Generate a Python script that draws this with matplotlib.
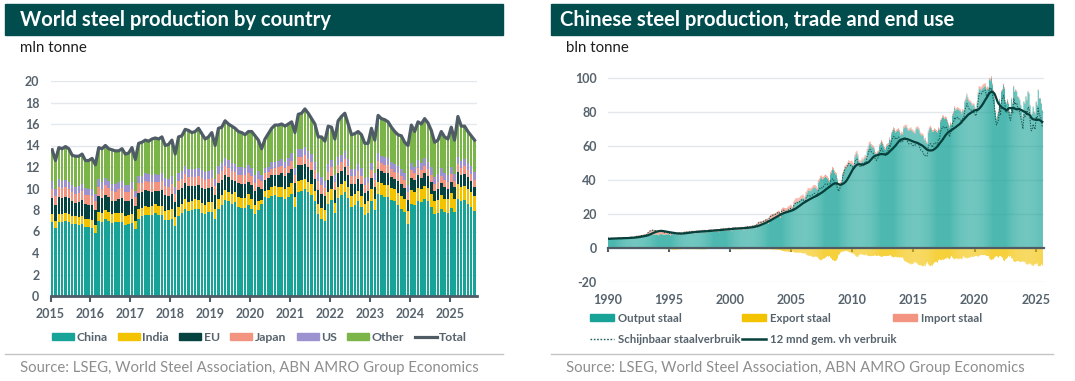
import numpy as np
import pandas as pd
import matplotlib
matplotlib.use("Agg")
import matplotlib.pyplot as plt
from matplotlib.patches import Rectangle, Patch
from matplotlib.lines import Line2D

plt.rcParams['font.family'] = ['Lato', 'DejaVu Sans']
plt.rcParams['axes.unicode_minus'] = False

# ---------------- data links: wereldproductie per land (mln tonne, maandelijks 2015-01 .. 2025-08)
start_links = 2015
landen = ['China', 'India', 'EU', 'Japan', 'US', 'Other']

totaal = [
    13.6, 12.6, 13.8, 13.7, 13.9, 13.7, 13.1, 13.0, 13.0, 13.2, 12.6, 12.6,
    12.8, 12.2, 13.8, 13.7, 14.0, 13.7, 13.6, 13.5, 13.5, 13.7, 13.2, 13.3,
    13.8, 12.7, 14.2, 14.3, 14.5, 14.4, 14.6, 14.7, 14.6, 14.8, 14.0, 14.1,
    14.5, 13.2, 14.8, 14.9, 15.5, 15.4, 15.2, 15.3, 15.6, 15.1, 14.6, 14.8,
    15.2, 14.0, 15.6, 15.7, 16.3, 16.0, 15.8, 15.6, 15.3, 15.2, 15.0, 15.3,
    15.3, 14.9, 14.5, 13.7, 14.6, 15.1, 15.6, 15.9, 15.9, 16.0, 15.8, 16.0,
    16.2, 15.2, 16.9, 17.0, 17.4, 17.0, 16.5, 16.0, 14.8, 14.8, 14.4, 15.8,
    15.7, 14.6, 16.3, 16.7, 17.0, 16.0, 15.0, 15.1, 15.3, 15.0, 14.2, 14.2,
    15.6, 14.5, 16.8, 16.5, 16.4, 16.2, 15.7, 15.3, 15.0, 14.9, 14.3, 14.0,
    15.9, 15.3, 16.2, 16.0, 16.5, 16.1, 15.4, 14.3, 14.5, 15.3, 14.8, 14.6,
    15.7, 14.5, 16.7, 15.8, 15.8, 15.3, 14.9, 14.5,
]
china = [
    6.9, 6.3, 6.9, 6.9, 7.0, 6.9, 6.7, 6.7, 6.6, 6.7, 6.4, 6.4,
    6.3, 5.9, 7.0, 6.9, 7.2, 7.0, 6.8, 6.9, 6.9, 6.9, 6.6, 6.7,
    6.8, 6.2, 7.2, 7.4, 7.5, 7.5, 7.5, 7.7, 7.5, 7.5, 7.1, 7.1,
    7.2, 6.5, 7.4, 7.7, 8.1, 7.9, 8.0, 8.1, 8.1, 7.7, 7.6, 7.8,
    7.8, 7.2, 8.1, 8.5, 8.9, 8.8, 8.6, 8.7, 8.3, 8.2, 8.2, 8.5,
    8.1, 7.6, 8.0, 8.6, 9.2, 9.1, 9.3, 9.4, 9.2, 9.2, 9.0, 9.2,
    9.5, 8.3, 9.7, 9.8, 10.0, 9.7, 9.4, 8.8, 7.6, 7.2, 7.0, 8.6,
    8.9, 7.7, 9.1, 9.4, 9.7, 9.1, 8.3, 8.5, 8.8, 8.3, 7.5, 7.7,
    8.8, 8.0, 9.5, 9.4, 9.2, 9.2, 8.9, 8.8, 8.5, 8.1, 7.8, 6.7,
    8.6, 8.5, 8.8, 8.7, 9.0, 8.8, 8.3, 7.6, 7.7, 8.1, 7.8, 7.7,
    8.2, 7.8, 9.0, 8.8, 8.9, 8.6, 8.3, 7.9,
]
india = [
    0.75, 0.70, 0.77, 0.74, 0.76, 0.73, 0.75, 0.76, 0.73, 0.76, 0.74, 0.78,
    0.80, 0.75, 0.82, 0.78, 0.80, 0.78, 0.79, 0.80, 0.78, 0.82, 0.80, 0.84,
    0.86, 0.78, 0.87, 0.82, 0.84, 0.82, 0.83, 0.85, 0.83, 0.86, 0.85, 0.89,
    0.90, 0.82, 0.92, 0.86, 0.88, 0.86, 0.88, 0.89, 0.87, 0.92, 0.90, 0.94,
    0.95, 0.87, 0.96, 0.90, 0.92, 0.90, 0.92, 0.93, 0.89, 0.93, 0.93, 0.96,
    0.95, 0.89, 0.82, 0.33, 0.58, 0.76, 0.85, 0.85, 0.90, 0.95, 0.92, 0.98,
    1.00, 0.93, 1.03, 0.95, 0.88, 0.90, 0.98, 0.98, 0.95, 0.98, 0.96, 1.03,
    1.05, 0.97, 1.07, 1.00, 1.03, 1.00, 1.02, 1.03, 1.00, 1.03, 1.05, 1.10,
    1.12, 1.02, 1.13, 1.10, 1.13, 1.10, 1.12, 1.14, 1.12, 1.18, 1.19, 1.23,
    1.25, 1.15, 1.27, 1.22, 1.25, 1.21, 1.23, 1.25, 1.20, 1.27, 1.25, 1.30,
    1.35, 1.25, 1.40, 1.32, 1.37, 1.35, 1.38, 1.40,
]
eu = [
    1.45, 1.42, 1.55, 1.50, 1.48, 1.46, 1.35, 1.15, 1.40, 1.45, 1.42, 1.30,
    1.35, 1.38, 1.45, 1.42, 1.40, 1.40, 1.28, 1.12, 1.38, 1.42, 1.40, 1.28,
    1.38, 1.38, 1.52, 1.45, 1.48, 1.45, 1.35, 1.20, 1.42, 1.48, 1.45, 1.30,
    1.42, 1.38, 1.50, 1.48, 1.50, 1.45, 1.35, 1.20, 1.40, 1.45, 1.42, 1.28,
    1.38, 1.35, 1.42, 1.40, 1.42, 1.35, 1.25, 1.08, 1.30, 1.32, 1.30, 1.15,
    1.30, 1.28, 1.28, 1.05, 1.05, 1.08, 1.08, 0.98, 1.20, 1.28, 1.25, 1.22,
    1.30, 1.30, 1.42, 1.40, 1.42, 1.38, 1.30, 1.15, 1.35, 1.35, 1.30, 1.15,
    1.25, 1.20, 1.25, 1.25, 1.28, 1.20, 1.08, 0.92, 1.12, 1.12, 1.05, 0.95,
    1.08, 1.08, 1.18, 1.12, 1.15, 1.10, 1.02, 0.90, 1.10, 1.12, 1.08, 0.98,
    1.12, 1.10, 1.15, 1.10, 1.15, 1.12, 1.05, 0.88, 1.08, 1.12, 1.05, 0.95,
    1.10, 1.05, 1.15, 1.10, 1.12, 1.08, 1.02, 0.85,
]
japan = [
    0.90, 0.85, 0.92, 0.87, 0.89, 0.86, 0.90, 0.88, 0.86, 0.88, 0.85, 0.87,
    0.88, 0.82, 0.90, 0.87, 0.89, 0.86, 0.89, 0.88, 0.86, 0.89, 0.86, 0.88,
    0.89, 0.82, 0.90, 0.86, 0.88, 0.87, 0.89, 0.88, 0.86, 0.87, 0.87, 0.88,
    0.88, 0.82, 0.91, 0.87, 0.90, 0.86, 0.86, 0.88, 0.80, 0.88, 0.86, 0.87,
    0.86, 0.80, 0.87, 0.85, 0.87, 0.83, 0.85, 0.84, 0.81, 0.82, 0.80, 0.81,
    0.82, 0.77, 0.81, 0.68, 0.58, 0.57, 0.62, 0.66, 0.66, 0.70, 0.70, 0.73,
    0.79, 0.73, 0.80, 0.79, 0.82, 0.81, 0.80, 0.81, 0.79, 0.80, 0.78, 0.78,
    0.78, 0.72, 0.79, 0.77, 0.78, 0.75, 0.74, 0.72, 0.72, 0.75, 0.72, 0.72,
    0.73, 0.69, 0.76, 0.72, 0.74, 0.74, 0.73, 0.72, 0.71, 0.73, 0.71, 0.73,
    0.73, 0.66, 0.73, 0.70, 0.72, 0.70, 0.70, 0.69, 0.67, 0.70, 0.68, 0.68,
    0.69, 0.64, 0.72, 0.68, 0.69, 0.66, 0.68, 0.67,
]
us = [
    0.72, 0.66, 0.70, 0.66, 0.68, 0.65, 0.67, 0.67, 0.64, 0.65, 0.62, 0.63,
    0.65, 0.63, 0.69, 0.68, 0.70, 0.67, 0.68, 0.70, 0.66, 0.66, 0.64, 0.65,
    0.68, 0.62, 0.70, 0.67, 0.70, 0.68, 0.70, 0.70, 0.67, 0.70, 0.68, 0.69,
    0.72, 0.65, 0.72, 0.70, 0.73, 0.72, 0.74, 0.76, 0.72, 0.76, 0.74, 0.76,
    0.77, 0.70, 0.77, 0.74, 0.77, 0.74, 0.75, 0.76, 0.72, 0.73, 0.71, 0.74,
    0.76, 0.71, 0.73, 0.55, 0.51, 0.53, 0.59, 0.61, 0.61, 0.64, 0.64, 0.68,
    0.70, 0.63, 0.71, 0.70, 0.74, 0.72, 0.74, 0.75, 0.72, 0.74, 0.70, 0.70,
    0.71, 0.64, 0.72, 0.70, 0.72, 0.69, 0.69, 0.69, 0.67, 0.68, 0.64, 0.62,
    0.67, 0.62, 0.69, 0.67, 0.70, 0.67, 0.69, 0.70, 0.67, 0.69, 0.66, 0.68,
    0.68, 0.63, 0.68, 0.66, 0.69, 0.67, 0.69, 0.69, 0.66, 0.68, 0.65, 0.66,
    0.67, 0.61, 0.69, 0.68, 0.70, 0.68, 0.71, 0.72,
]

# ---------------- data rechts: China staal (maandelijks 1990-01 .. 2025-07)
start_rechts = 1990
output_staal = [
    5.6, 5.3, 5.8, 5.8, 5.9, 5.8, 5.7, 5.8, 5.8, 5.9, 5.9, 6.0,
    5.9, 5.6, 6.0, 6.1, 6.2, 6.1, 6.0, 6.1, 6.2, 6.3, 6.3, 6.4,
    6.3, 6.0, 6.6, 6.7, 6.8, 6.8, 6.7, 6.8, 6.9, 7.0, 7.0, 7.1,
    7.2, 6.9, 7.5, 7.7, 7.9, 7.9, 7.8, 7.9, 8.0, 8.1, 8.1, 8.2,
    8.0, 7.6, 8.2, 8.3, 8.4, 8.2, 8.0, 8.0, 8.1, 8.2, 8.2, 8.3,
    8.0, 7.6, 8.1, 8.3, 8.4, 8.3, 8.2, 8.2, 8.3, 8.4, 8.4, 8.5,
    8.3, 8.0, 8.6, 8.7, 8.8, 8.7, 8.6, 8.7, 8.8, 8.9, 8.9, 9.0,
    8.9, 8.5, 9.1, 9.2, 9.3, 9.3, 9.2, 9.3, 9.4, 9.5, 9.5, 9.6,
    9.4, 9.0, 9.7, 9.8, 9.9, 9.8, 9.7, 9.8, 9.9, 10.0, 10.0, 10.1,
    9.9, 9.5, 10.2, 10.3, 10.4, 10.3, 10.2, 10.3, 10.4, 10.5, 10.6, 10.7,
    10.6, 10.1, 10.9, 11.0, 11.1, 11.0, 10.9, 11.0, 11.1, 11.2, 11.2, 11.3,
    11.0, 10.6, 11.3, 11.4, 11.6, 11.5, 11.4, 11.5, 11.7, 11.9, 12.0, 12.2,
    12.2, 11.8, 13.0, 13.3, 13.7, 13.8, 13.8, 14.0, 14.3, 14.6, 14.8, 15.1,
    15.0, 14.4, 15.9, 16.3, 16.8, 16.9, 17.0, 17.3, 17.7, 18.2, 18.5, 18.9,
    18.5, 17.8, 19.8, 20.4, 21.0, 21.2, 21.3, 21.6, 22.1, 22.6, 22.9, 23.3,
    23.0, 22.0, 25.0, 26.0, 27.0, 27.3, 27.2, 27.6, 28.2, 28.8, 29.2, 29.6,
    29.0, 28.0, 31.5, 32.5, 33.8, 34.0, 33.6, 34.0, 34.8, 35.4, 35.8, 35.5,
    35.0, 34.0, 38.5, 39.5, 41.0, 41.5, 40.5, 40.8, 41.5, 42.0, 41.5, 41.0,
    40.0, 39.0, 43.5, 44.5, 46.5, 46.0, 44.5, 43.5, 43.0, 40.0, 36.5, 37.5,
    38.0, 38.5, 43.0, 44.5, 46.5, 47.0, 47.5, 48.5, 50.0, 49.5, 49.5, 50.0,
    49.0, 48.5, 53.5, 55.0, 56.0, 54.0, 51.0, 50.5, 50.0, 52.0, 51.0, 52.5,
    53.5, 53.0, 57.0, 58.5, 61.0, 61.5, 60.0, 59.5, 59.0, 58.0, 55.5, 55.0,
    56.0, 56.5, 60.0, 61.0, 62.5, 61.5, 60.0, 58.5, 58.0, 60.0, 60.5, 61.0,
    64.0, 63.0, 67.0, 68.5, 70.0, 69.5, 68.0, 68.5, 69.0, 69.5, 68.5, 66.5,
    67.5, 67.0, 70.5, 71.0, 71.5, 71.0, 69.5, 69.0, 69.5, 70.0, 69.0, 68.5,
    68.0, 67.5, 70.0, 70.5, 70.5, 69.5, 67.5, 66.5, 66.5, 66.0, 63.5, 64.0,
    62.0, 61.5, 68.0, 70.0, 71.0, 70.0, 68.5, 68.5, 69.5, 69.0, 68.5, 68.0,
    70.0, 69.5, 74.5, 75.5, 77.0, 77.0, 76.0, 76.5, 76.0, 74.5, 72.5, 71.0,
    73.0, 72.5, 78.0, 79.5, 82.5, 81.0, 81.5, 82.0, 81.5, 81.0, 80.5, 79.0,
    81.0, 80.5, 86.0, 87.5, 90.0, 88.0, 86.5, 86.0, 85.5, 84.0, 84.5, 84.0,
    82.0, 81.5, 85.0, 90.5, 94.0, 93.5, 93.0, 94.0, 94.5, 95.0, 95.5, 93.0,
    94.0, 93.5, 99.0, 98.5, 100.0, 96.0, 92.0, 88.0, 80.0, 76.0, 78.0, 80.0,
    87.0, 82.0, 92.0, 93.0, 96.0, 94.0, 86.0, 85.0, 87.0, 85.0, 80.0, 79.0,
    88.0, 85.0, 95.0, 92.0, 93.0, 92.0, 89.0, 88.5, 87.0, 84.0, 81.0, 77.0,
    86.0, 85.0, 89.0, 87.0, 92.0, 91.0, 84.0, 78.0, 79.0, 83.0, 80.0, 79.0,
    86.0, 84.0, 93.0, 88.0, 88.0, 85.0, 81.0,
]
export_staal = [
    0.3, 0.3, 0.3, 0.4, 0.3, 0.3, 0.3, 0.3, 0.4, 0.3, 0.3, 0.3,
    0.3, 0.3, 0.4, 0.4, 0.4, 0.3, 0.4, 0.4, 0.4, 0.4, 0.4, 0.4,
    0.4, 0.3, 0.4, 0.4, 0.4, 0.4, 0.4, 0.4, 0.3, 0.4, 0.4, 0.4,
    0.3, 0.3, 0.3, 0.3, 0.3, 0.2, 0.2, 0.3, 0.3, 0.3, 0.3, 0.3,
    0.3, 0.3, 0.4, 0.4, 0.4, 0.4, 0.5, 0.5, 0.5, 0.5, 0.5, 0.5,
    0.6, 0.5, 0.7, 0.7, 0.8, 0.8, 0.8, 0.7, 0.7, 0.6, 0.6, 0.6,
    0.5, 0.4, 0.5, 0.5, 0.5, 0.5, 0.5, 0.5, 0.5, 0.5, 0.5, 0.5,
    0.5, 0.4, 0.5, 0.5, 0.6, 0.6, 0.6, 0.6, 0.6, 0.6, 0.6, 0.6,
    0.5, 0.4, 0.4, 0.4, 0.4, 0.4, 0.4, 0.4, 0.4, 0.4, 0.4, 0.4,
    0.4, 0.3, 0.4, 0.4, 0.4, 0.4, 0.4, 0.4, 0.4, 0.4, 0.4, 0.4,
    0.5, 0.4, 0.5, 0.6, 0.6, 0.6, 0.6, 0.6, 0.6, 0.6, 0.6, 0.6,
    0.5, 0.4, 0.5, 0.5, 0.5, 0.5, 0.5, 0.5, 0.5, 0.5, 0.5, 0.5,
    0.5, 0.4, 0.5, 0.5, 0.5, 0.5, 0.5, 0.6, 0.6, 0.6, 0.6, 0.6,
    0.6, 0.5, 0.6, 0.6, 0.7, 0.7, 0.7, 0.7, 0.7, 0.8, 0.8, 0.8,
    1.0, 1.0, 1.3, 1.5, 1.6, 1.8, 1.8, 1.9, 1.9, 2.0, 2.1, 2.0,
    2.0, 1.8, 2.3, 2.4, 2.6, 2.5, 2.6, 2.6, 2.5, 2.6, 2.8, 3.0,
    3.0, 2.8, 3.5, 4.0, 4.2, 4.5, 4.3, 4.5, 5.0, 5.2, 5.0, 4.8,
    5.0, 5.0, 6.0, 6.5, 7.0, 7.0, 6.5, 6.0, 6.0, 5.5, 5.0, 4.5,
    5.0, 4.5, 5.5, 6.0, 7.0, 7.0, 7.5, 7.5, 7.0, 6.0, 4.0, 3.5,
    2.5, 2.0, 2.0, 1.8, 1.8, 1.5, 1.6, 1.8, 2.0, 2.3, 2.5, 3.0,
    3.0, 3.2, 3.8, 4.5, 5.0, 5.0, 4.0, 3.5, 3.5, 3.5, 3.8, 4.0,
    4.0, 3.5, 4.2, 4.5, 4.6, 4.6, 4.5, 4.5, 4.5, 4.2, 4.2, 4.5,
    4.5, 4.2, 4.5, 4.8, 5.0, 5.0, 4.5, 4.5, 4.5, 4.6, 4.5, 4.5,
    4.2, 4.0, 4.8, 5.0, 5.5, 5.0, 5.0, 5.2, 5.3, 5.2, 5.5, 5.2,
    5.5, 5.2, 6.5, 7.5, 7.8, 8.0, 8.5, 8.8, 9.0, 9.5, 9.0, 9.3,
    8.5, 8.0, 8.5, 8.8, 9.5, 10.0, 9.8, 10.0, 10.5, 10.5, 10.0, 10.5,
    9.0, 8.0, 9.5, 10.0, 10.5, 10.0, 10.2, 9.0, 8.5, 8.0, 8.0, 8.5,
    7.0, 6.5, 7.0, 7.0, 6.5, 6.8, 6.5, 6.0, 6.0, 5.5, 6.0, 6.5,
    5.5, 4.5, 5.5, 6.0, 6.5, 6.0, 6.0, 6.0, 6.5, 6.0, 6.0, 6.5,
    5.5, 4.5, 5.5, 5.5, 6.0, 5.5, 5.5, 5.5, 5.0, 5.0, 5.0, 5.0,
    4.5, 4.5, 4.5, 5.0, 4.5, 4.0, 4.0, 4.0, 4.0, 4.0, 4.0, 4.5,
    4.5, 4.5, 6.0, 6.5, 7.0, 6.5, 6.5, 5.5, 5.0, 4.5, 5.0, 5.5,
    4.5, 4.5, 5.0, 5.5, 7.0, 7.5, 6.5, 6.0, 5.5, 4.5, 5.0, 4.5,
    6.0, 6.0, 7.5, 8.0, 8.0, 7.5, 7.5, 7.5, 8.0, 8.0, 8.0, 7.5,
    8.0, 8.0, 9.0, 9.5, 9.5, 9.0, 9.0, 9.5, 10.0, 10.5, 9.5, 9.5,
    9.0, 9.0, 10.5, 10.5, 10.5, 9.5, 10.0,
]
import_staal = [
    0.4, 0.3, 0.4, 0.4, 0.4, 0.3, 0.4, 0.4, 0.3, 0.4, 0.4, 0.4,
    0.4, 0.3, 0.4, 0.4, 0.5, 0.4, 0.4, 0.5, 0.4, 0.5, 0.5, 0.5,
    0.5, 0.5, 0.6, 0.6, 0.7, 0.7, 0.8, 0.8, 0.9, 0.9, 1.0, 1.0,
    1.2, 1.2, 1.5, 1.8, 2.2, 2.6, 2.8, 3.0, 2.9, 2.7, 2.6, 2.5,
    2.4, 2.2, 2.3, 2.2, 2.0, 1.9, 1.8, 1.7, 1.6, 1.6, 1.5, 1.5,
    1.3, 1.2, 1.2, 1.1, 1.1, 1.0, 1.0, 1.0, 1.0, 1.0, 1.1, 1.1,
    1.1, 1.0, 1.2, 1.2, 1.3, 1.3, 1.3, 1.3, 1.4, 1.4, 1.4, 1.4,
    1.3, 1.2, 1.3, 1.3, 1.3, 1.4, 1.3, 1.3, 1.4, 1.4, 1.4, 1.3,
    1.2, 1.1, 1.2, 1.3, 1.3, 1.2, 1.2, 1.2, 1.3, 1.3, 1.2, 1.3,
    1.2, 1.1, 1.3, 1.4, 1.4, 1.4, 1.3, 1.4, 1.4, 1.5, 1.5, 1.5,
    1.4, 1.3, 1.4, 1.5, 1.5, 1.4, 1.3, 1.3, 1.4, 1.3, 1.4, 1.4,
    1.4, 1.3, 1.5, 1.6, 1.6, 1.5, 1.5, 1.6, 1.6, 1.5, 1.6, 1.6,
    1.7, 1.6, 1.8, 2.0, 2.1, 2.0, 2.0, 2.0, 2.1, 2.1, 2.2, 2.3,
    2.5, 2.4, 2.8, 3.0, 3.2, 3.2, 3.3, 3.2, 3.0, 3.0, 3.1, 3.2,
    3.3, 3.0, 3.2, 3.4, 3.0, 2.6, 2.2, 2.1, 2.0, 2.1, 2.2, 2.3,
    2.4, 2.2, 2.5, 2.5, 2.4, 2.3, 2.1, 2.0, 2.0, 2.1, 2.1, 2.2,
    1.8, 1.6, 1.7, 1.6, 1.6, 1.5, 1.5, 1.5, 1.5, 1.5, 1.5, 1.6,
    1.5, 1.4, 1.5, 1.5, 1.5, 1.4, 1.4, 1.4, 1.4, 1.4, 1.3, 1.3,
    1.4, 1.2, 1.4, 1.4, 1.4, 1.3, 1.3, 1.4, 1.3, 1.2, 1.0, 1.0,
    1.0, 1.1, 1.3, 1.5, 1.7, 1.8, 1.9, 2.0, 1.9, 1.8, 1.7, 1.6,
    1.5, 1.4, 1.5, 1.5, 1.4, 1.3, 1.3, 1.3, 1.3, 1.3, 1.3, 1.3,
    1.4, 1.2, 1.4, 1.4, 1.4, 1.3, 1.3, 1.3, 1.3, 1.2, 1.2, 1.2,
    1.2, 1.1, 1.2, 1.2, 1.2, 1.2, 1.1, 1.1, 1.1, 1.1, 1.1, 1.1,
    1.1, 1.0, 1.2, 1.2, 1.2, 1.2, 1.1, 1.2, 1.2, 1.2, 1.2, 1.2,
    1.2, 1.1, 1.3, 1.3, 1.3, 1.3, 1.2, 1.2, 1.2, 1.2, 1.2, 1.2,
    1.1, 1.0, 1.1, 1.1, 1.1, 1.1, 1.0, 1.1, 1.1, 1.0, 1.0, 1.1,
    1.0, 0.9, 1.2, 1.2, 1.1, 1.1, 1.1, 1.1, 1.1, 1.1, 1.1, 1.1,
    1.1, 1.0, 1.2, 1.1, 1.1, 1.1, 1.1, 1.1, 1.1, 1.1, 1.1, 1.1,
    1.1, 0.9, 1.1, 1.1, 1.1, 1.1, 1.1, 1.1, 1.1, 1.1, 1.1, 1.1,
    1.0, 0.9, 1.0, 1.0, 1.1, 1.0, 1.1, 1.0, 1.0, 1.0, 1.0, 1.0,
    1.0, 0.9, 1.2, 1.3, 1.5, 1.6, 1.7, 1.8, 2.0, 1.8, 1.6, 1.5,
    1.2, 1.1, 1.2, 1.2, 1.2, 1.1, 1.2, 1.1, 1.1, 1.1, 1.1, 1.0,
    0.9, 0.8, 0.9, 0.8, 0.8, 0.8, 0.8, 0.8, 0.8, 0.8, 0.8, 0.8,
    0.6, 0.6, 0.7, 0.6, 0.6, 0.6, 0.6, 0.6, 0.6, 0.6, 0.6, 0.7,
    0.6, 0.5, 0.6, 0.6, 0.6, 0.5, 0.5, 0.6, 0.5, 0.5, 0.5, 0.5,
    0.5, 0.5, 0.5, 0.5, 0.5, 0.5, 0.5,
]

# kleuren
kop_kleur = '#014d4e'
tekst_grijs = '#56636d'
kleuren = {'China': '#17a398', 'India': '#f4c300', 'EU': '#04433f',
           'Japan': '#f29480', 'US': '#9b92cf', 'Other': '#7bb54a'}
lijn_grijs = '#4f5c66'
raster = '#e5e8eb'

W, H = 1075, 381
fig = plt.figure(figsize=(W / 100, H / 100), dpi=100)


def fx(px):
    return px / W


def fy(py):
    return 1 - py / H


def kop(x0, x1, tx, tekst, eenheid):
    fig.patches.append(Rectangle((fx(x0), fy(35)), fx(x1 - x0), 31 / H,
                                 transform=fig.transFigure, color=kop_kleur, zorder=0))
    fig.text(fx(tx), fy(19.5), tekst, color='white', fontsize=14.6,
             fontweight='bold', va='center', ha='left')
    fig.text(fx(x0 + 15), fy(48), eenheid, color='#1e1e1e', fontsize=10.8, va='center')


def voet(x0, x1, tx):
    fig.add_artist(Line2D([fx(x0), fx(x1)], [fy(354), fy(354)], color='#c4c4c4', lw=1))
    fig.text(fx(tx), fy(368), 'Source: LSEG, World Steel Association, ABN AMRO Group Economics',
             color='#8e8e8e', fontsize=10.75, va='center')


def opmaak(ax):
    for s in ['top', 'right', 'left']:
        ax.spines[s].set_visible(False)
    ax.grid(axis='y', color=raster, lw=1)
    ax.set_axisbelow(True)
    ax.tick_params(axis='y', length=0, pad=8, labelsize=9, labelcolor=tekst_grijs)
    for lab in ax.get_xticklabels() + ax.get_yticklabels():
        lab.set_fontweight('bold')


# ---------------- linker grafiek
kop(5, 503, 20.5, 'World steel production by country', 'mln tonne')
voet(5, 503, 20)

ax1 = fig.add_axes([fx(50.5), fy(296), fx(477 - 50.5), (296 - 81) / H])
n1 = len(totaal)
x1 = start_links + (np.arange(n1) + 0.5) / 12
other = np.array(totaal) - (np.array(china) + np.array(india) + np.array(eu)
                             + np.array(japan) + np.array(us))
reeksen = {'China': china, 'India': india, 'EU': eu, 'Japan': japan, 'US': us, 'Other': other}
onder = np.zeros(n1)
for naam in landen:
    v = np.array(reeksen[naam], dtype=float)
    ax1.bar(x1, v, width=0.75 / 12, bottom=onder, color=kleuren[naam], linewidth=0)
    onder += v
ax1.plot(x1, totaal, color=lijn_grijs, lw=2.3, solid_joinstyle='round')
ax1.set_ylim(0, 20)
ax1.set_yticks(range(0, 21, 2))
ax1.set_xlim(start_links, start_links + n1 / 12 + 0.02)
ax1.set_xticks(range(2015, 2026))
ax1.spines['bottom'].set_color(lijn_grijs)
ax1.spines['bottom'].set_linewidth(2)
ax1.tick_params(axis='x', length=4, width=1.5, color=lijn_grijs, pad=5,
                labelsize=9, labelcolor=tekst_grijs)
opmaak(ax1)

handles1 = [Patch(color=kleuren[n]) for n in landen] + [Line2D([], [], color=lijn_grijs, lw=2.3)]
leg1 = fig.legend(handles1, landen + ['Total'], loc='center left', bbox_to_anchor=(fx(52), fy(337.5)),
                  ncol=7, frameon=False, fontsize=8.8, handlelength=1.8,
                  handleheight=0.55, handletextpad=0.2, columnspacing=0.85,
                  borderpad=0, borderaxespad=0)
for t in leg1.get_texts():
    t.set_color(tekst_grijs)
    t.set_fontweight('bold')

# ---------------- rechter grafiek
kop(551, 1053, 560.5, 'Chinese steel production, trade and end use', 'bln tonne')
voet(551, 1053, 566)

ax2 = fig.add_axes([fx(608), fy(282.3), fx(1044 - 608), (282.3 - 73.2) / H])
n2 = len(output_staal)
x2 = start_rechts + (np.arange(n2) + 0.5) / 12
out = np.array(output_staal)
exp = np.array(export_staal)
imp = np.array(import_staal)
verbruik = out + imp - exp
gem12 = pd.Series(verbruik).rolling(12, min_periods=1).mean()

bw = 0.75 / 12
ax2.bar(x2, out, width=bw, color=kleuren['China'], linewidth=0, snap=False)
ax2.bar(x2, imp, width=bw, bottom=out, color=kleuren['Japan'], linewidth=0, snap=False)
ax2.bar(x2, -exp, width=bw, color=kleuren['India'], linewidth=0, snap=False)
ax2.plot(x2, verbruik, color='#1d5e58', lw=0.8, ls=(0, (1.2, 1.2)))
ax2.plot(x2, gem12, color='#073f3b', lw=1.6)
ax2.set_ylim(-20, 103)
ax2.set_yticks(range(-20, 101, 20))
ax2.set_xlim(start_rechts, start_rechts + n2 / 12 + 0.1)
ax2.set_xticks(range(1990, 2026, 5))
ax2.spines['bottom'].set_position(('data', 0))
ax2.spines['bottom'].set_color(lijn_grijs)
ax2.spines['bottom'].set_linewidth(1.6)
ax2.tick_params(axis='x', length=3, width=1.5, color=lijn_grijs, pad=30,
                labelsize=9, labelcolor=tekst_grijs)
opmaak(ax2)

# legenda in drie vaste kolommen
kolommen = [
    ([Patch(color=kleuren['China']), Line2D([], [], color='#1d5e58', lw=1, ls=(0, (1.2, 1.2)))],
     ['Output staal', 'Schijnbaar staalverbruik'], 590),
    ([Patch(color=kleuren['India']), Line2D([], [], color='#073f3b', lw=1.8)],
     ['Export staal', '12 mnd gem. vh verbruik'], 742),
    ([Patch(color=kleuren['Japan'])], ['Import staal'], 893),
]
for hs, ls_, xk in kolommen:
    leg = fig.legend(hs, ls_, loc='upper left', bbox_to_anchor=(fx(xk), fy(312.5)),
                     ncol=1, frameon=False, fontsize=8.2, handlelength=2.15,
                     handleheight=0.6, handletextpad=0.3, labelspacing=0.9,
                     borderpad=0, borderaxespad=0)
    for t in leg.get_texts():
        t.set_color(tekst_grijs)
        t.set_fontweight('bold')

fig.savefig('out.png', dpi=100)
